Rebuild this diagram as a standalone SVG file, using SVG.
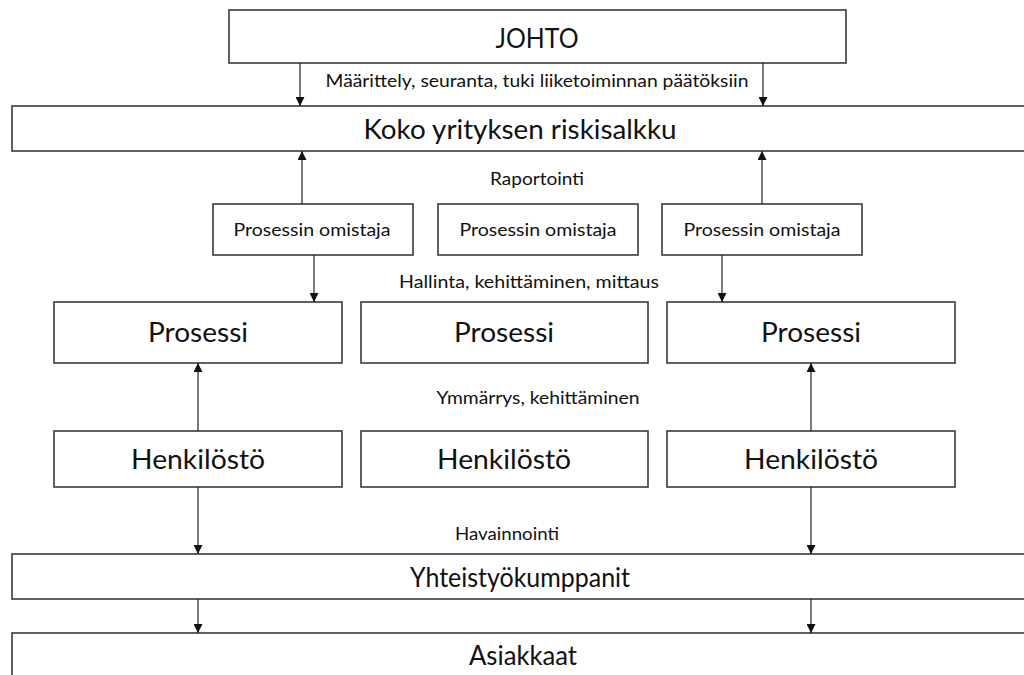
<svg xmlns="http://www.w3.org/2000/svg" width="1024" height="675" viewBox="0 0 1024 675">
<style>
.box{fill:#fff;stroke:#3a3a3a;stroke-width:1.6}
.t{font-family:Lato,"Liberation Sans",sans-serif;fill:#111;text-anchor:middle;dominant-baseline:central}
.big{font-size:26px}
.mid{font-size:18px}
.sm{font-size:17px}
.ln{stroke:#222;stroke-width:1.2;fill:none;marker-end:url(#ah)}
</style>
<defs>
<marker id="ah" viewBox="0 0 10 10" refX="10" refY="5" markerWidth="9" markerHeight="9" markerUnits="userSpaceOnUse" orient="auto">
<path d="M0,0 L10,5 L0,10 z" fill="#111"/>
</marker>
</defs>
<rect width="1024" height="675" fill="#fff"/>
<g id="johto"><rect class="box" x="229" y="10" width="617" height="53"/><text class="t big" x="537" y="38" textLength="83" lengthAdjust="spacingAndGlyphs">JOHTO</text></g>
<g id="riskisalkku"><rect class="box" x="12" y="106" width="1020" height="45"/><text class="t big" x="520" y="129" textLength="313" lengthAdjust="spacingAndGlyphs">Koko yrityksen riskisalkku</text></g>
<g id="omistaja1"><rect class="box" x="213" y="204" width="200" height="51"/><text class="t mid" x="312" y="229" textLength="157" lengthAdjust="spacingAndGlyphs">Prosessin omistaja</text></g>
<g id="omistaja2"><rect class="box" x="438" y="204" width="200" height="51"/><text class="t mid" x="538" y="229" textLength="157" lengthAdjust="spacingAndGlyphs">Prosessin omistaja</text></g>
<g id="omistaja3"><rect class="box" x="662" y="204" width="200" height="51"/><text class="t mid" x="762" y="229" textLength="157" lengthAdjust="spacingAndGlyphs">Prosessin omistaja</text></g>
<g id="prosessi1"><rect class="box" x="54" y="302" width="288" height="61"/><text class="t big" x="198" y="332" textLength="100" lengthAdjust="spacingAndGlyphs">Prosessi</text></g>
<g id="prosessi2"><rect class="box" x="361" y="302" width="287" height="61"/><text class="t big" x="504" y="332" textLength="100" lengthAdjust="spacingAndGlyphs">Prosessi</text></g>
<g id="prosessi3"><rect class="box" x="667" y="302" width="288" height="61"/><text class="t big" x="811" y="332" textLength="100" lengthAdjust="spacingAndGlyphs">Prosessi</text></g>
<g id="henkilosto1"><rect class="box" x="54" y="431" width="288" height="56"/><text class="t big" x="198" y="459" textLength="134" lengthAdjust="spacingAndGlyphs">Henkilöstö</text></g>
<g id="henkilosto2"><rect class="box" x="361" y="431" width="287" height="56"/><text class="t big" x="504" y="459" textLength="134" lengthAdjust="spacingAndGlyphs">Henkilöstö</text></g>
<g id="henkilosto3"><rect class="box" x="667" y="431" width="288" height="56"/><text class="t big" x="811" y="459" textLength="134" lengthAdjust="spacingAndGlyphs">Henkilöstö</text></g>
<g id="yhteistyokumppanit"><rect class="box" x="12" y="554" width="1020" height="45"/><text class="t big" x="520" y="577" textLength="220" lengthAdjust="spacingAndGlyphs">Yhteistyökumppanit</text></g>
<g id="asiakkaat"><rect class="box" x="12" y="633" width="1020" height="60"/><text class="t big" x="523" y="655" textLength="108" lengthAdjust="spacingAndGlyphs">Asiakkaat</text></g>
<g id="connectors">
<line class="ln" x1="300" y1="63" x2="300" y2="106"/>
<line class="ln" x1="763" y1="63" x2="763" y2="106"/>
<line class="ln" x1="302" y1="204" x2="302" y2="151"/>
<line class="ln" x1="762" y1="204" x2="762" y2="151"/>
<line class="ln" x1="314" y1="255" x2="314" y2="302"/>
<line class="ln" x1="722" y1="255" x2="722" y2="302"/>
<line class="ln" x1="198" y1="431" x2="198" y2="363"/>
<line class="ln" x1="811" y1="431" x2="811" y2="363"/>
<line class="ln" x1="198" y1="487" x2="198" y2="554"/>
<line class="ln" x1="811" y1="487" x2="811" y2="554"/>
<line class="ln" x1="198" y1="599" x2="198" y2="633"/>
<line class="ln" x1="811" y1="599" x2="811" y2="633"/>
</g>
<g id="labels">
<text class="t mid" x="537" y="80" textLength="423" lengthAdjust="spacingAndGlyphs">Määrittely, seuranta, tuki liiketoiminnan päätöksiin</text>
<text class="t sm" x="537" y="178" textLength="94" lengthAdjust="spacingAndGlyphs">Raportointi</text>
<text class="t mid" x="529" y="281" textLength="260" lengthAdjust="spacingAndGlyphs">Hallinta, kehittäminen, mittaus</text>
<text class="t sm" x="538" y="397" textLength="203" lengthAdjust="spacingAndGlyphs">Ymmärrys, kehittäminen</text>
<text class="t sm" x="507" y="533" textLength="104" lengthAdjust="spacingAndGlyphs">Havainnointi</text>
</g>
</svg>
